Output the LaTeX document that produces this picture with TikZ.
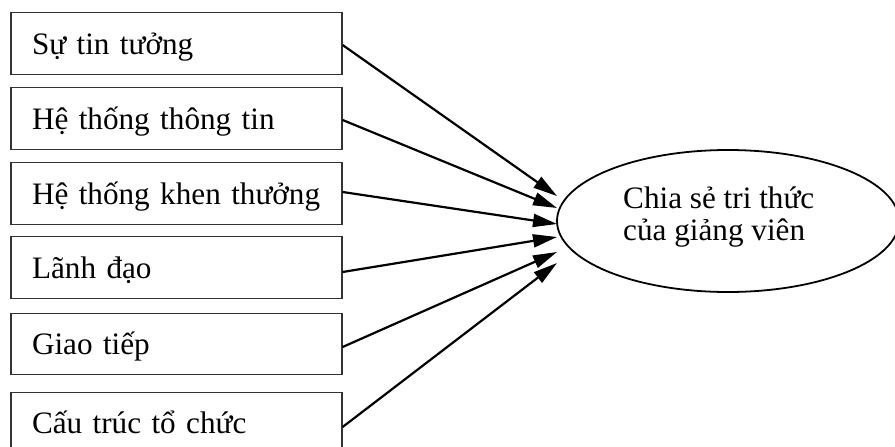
\documentclass[tikz,border=0pt]{standalone}
\usepackage{fontspec}
\setmainfont{Liberation Serif}
\usetikzlibrary{shapes,arrows.meta,calc,positioning}
\tikzset{
    -{Triangle[length=24pt,width=13pt]},
    factor/.style ={rectangle, draw=black!80, line width=1.2pt, text width=310pt, inner xsep=10.5pt,
        minimum height=61.5pt, align=left, text height=25.4pt, text depth=4.4pt,
        execute at begin node={\hspace*{10.5pt}},
        font=\fontsize{31.2}{32}\selectfont},
    goal/.style = {ellipse, draw, line width=1.8pt, minimum width=342pt, minimum height=142pt, inner sep=0pt},
    el/.style = {inner sep=0pt, align=left, font=\fontsize{31.2}{32}\selectfont},
    link/.style = {line width=2.2pt}
}
\begin{document}
\begin{tikzpicture}[x=1pt,y=-1pt]
	\useasboundingbox (0,0) rectangle (895,447);

	\node[factor] (1) at (176.5,43.5) {Sự tin tưởng};
	\node[factor] (2) at (176.5,118.5) {Hệ thống thông tin};
	\node[factor] (3) at (176.5,193.5) {Hệ thống khen thưởng};
	\node[factor] (4) at (176.5,267.5) {Lãnh đạo};
	\node[factor] (5) at (176.5,344) {Giao tiếp};
	\node[factor] (6) at (176.5,423) {Cấu trúc tổ chức};

	\node[goal] (7) at (728,221) {};
	\node[el, anchor=base west] (8) at (623,240) {Chia sẻ tri thức\\của giảng viên};

	\coordinate (e1) at (557,196);
	\coordinate (e2) at (557,208);
	\coordinate (e3) at (557,224);
	\coordinate (e4) at (557,237);
	\coordinate (e5) at (557,252);
	\coordinate (e6) at (557,263);

    \path[link] ([yshift=-1.5pt]1.east) edge (e1);
    \path[link] ([yshift=-1.5pt]2.east) edge (e2);
    \path[link] ([yshift=1.5pt]3.east) edge (e3);
    \path[link] ([yshift=-4.5pt]4.east) edge (e4);
    \path[link] ([yshift=-3pt]5.east) edge (e5);
    \path[link] ([yshift=-4pt]6.east) edge (e6);
\end{tikzpicture}
\end{document}
